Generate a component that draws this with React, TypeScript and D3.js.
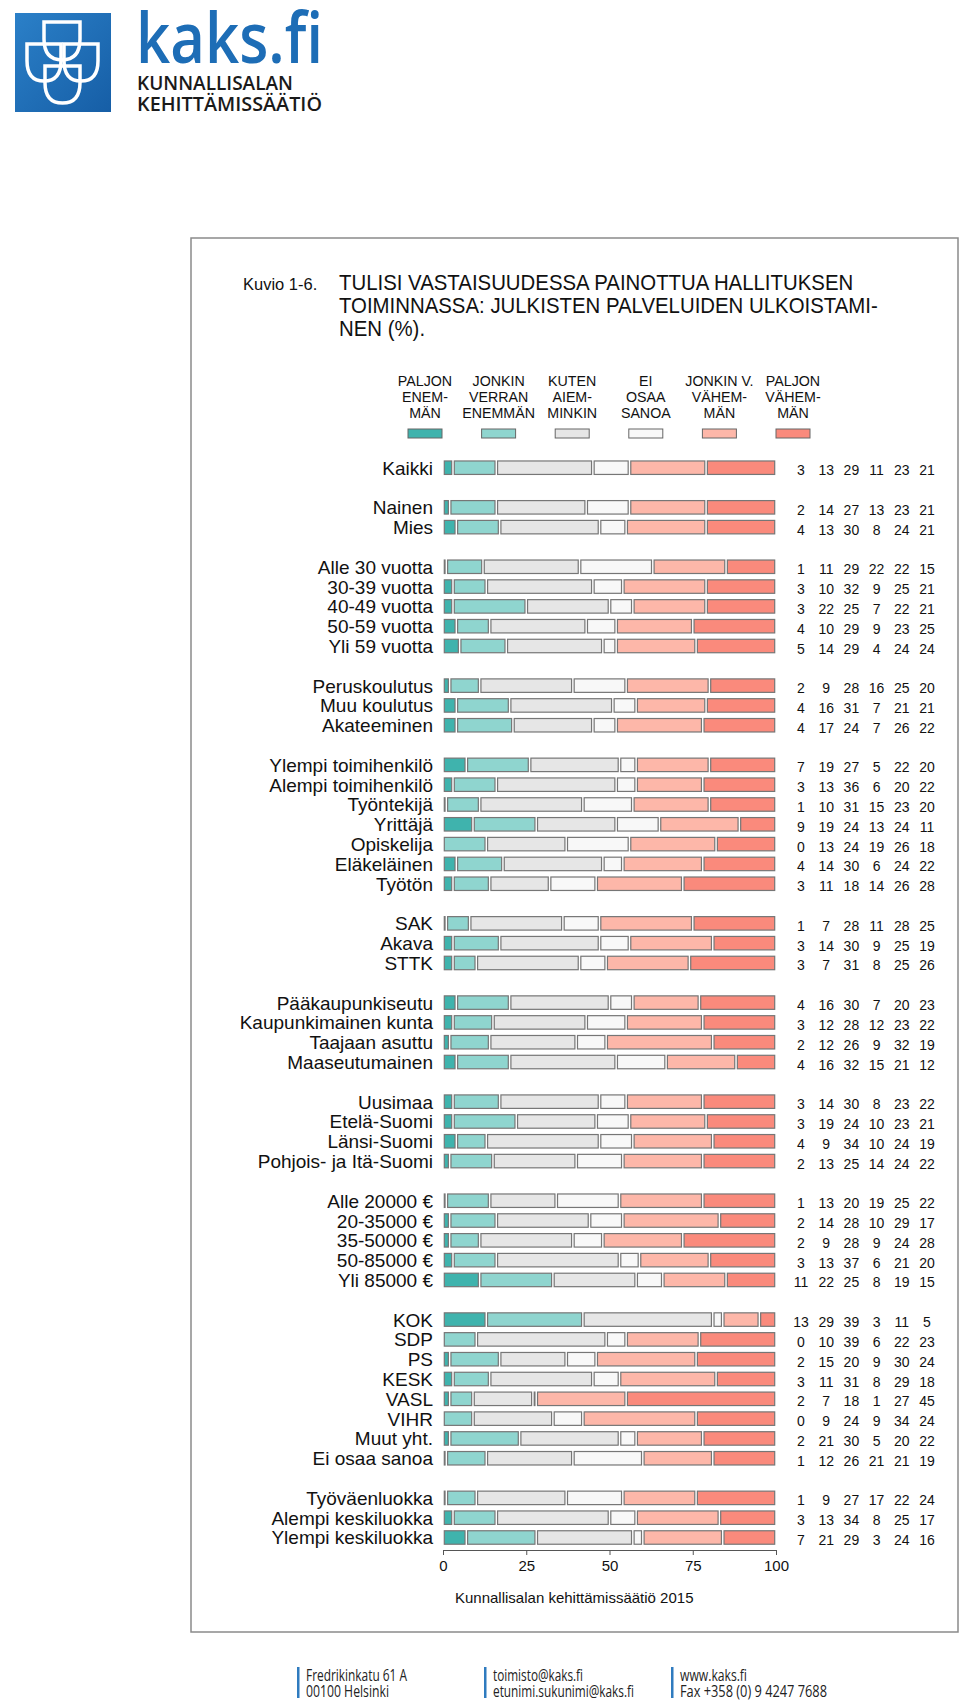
import { useEffect, useRef } from 'react';
import * as d3 from 'd3';

const FONT = '"Liberation Sans", Arial, Helvetica, sans-serif';
const LOGO_FONT = '"Open Sans", "Noto Sans", sans-serif';

// answer categories, left to right
const seriesKeys = ['pe', 'jve', 'ka', 'eos', 'jvv', 'pv'];
const legendLines = [
  ['PALJON', 'ENEM-', 'MÄN'],
  ['JONKIN', 'VERRAN', 'ENEMMÄN'],
  ['KUTEN', 'AIEM-', 'MINKIN'],
  ['EI', 'OSAA', 'SANOA'],
  ['JONKIN V.', 'VÄHEM-', 'MÄN'],
  ['PALJON', 'VÄHEM-', 'MÄN'],
];
const seriesColors = ['#3fb3ad', '#8fd5cf', '#e6e6e6', '#f8f8f8', '#fdb7a9', '#fa8a7c'];

// respondent groups (a blank row goes between groups)
const groups = [
  ['Kaikki'],
  ['Nainen', 'Mies'],
  ['Alle 30 vuotta', '30-39 vuotta', '40-49 vuotta', '50-59 vuotta', 'Yli 59 vuotta'],
  ['Peruskoulutus', 'Muu koulutus', 'Akateeminen'],
  ['Ylempi toimihenkilö', 'Alempi toimihenkilö', 'Työntekijä', 'Yrittäjä', 'Opiskelija', 'Eläkeläinen', 'Työtön'],
  ['SAK', 'Akava', 'STTK'],
  ['Pääkaupunkiseutu', 'Kaupunkimainen kunta', 'Taajaan asuttu', 'Maaseutumainen'],
  ['Uusimaa', 'Etelä-Suomi', 'Länsi-Suomi', 'Pohjois- ja Itä-Suomi'],
  ['Alle 20000 €', '20-35000 €', '35-50000 €', '50-85000 €', 'Yli 85000 €'],
  ['KOK', 'SDP', 'PS', 'KESK', 'VASL', 'VIHR', 'Muut yht.', 'Ei osaa sanoa'],
  ['Työväenluokka', 'Alempi keskiluokka', 'Ylempi keskiluokka'],
];

// percentages per answer, one value per category (same order as groups.flat())
const paljonEnemman = [3, 2, 4, 1, 3, 3, 4, 5, 2, 4, 4, 7, 3, 1, 9, 0, 4, 3, 1, 3, 3, 4, 3, 2, 4, 3, 3, 4, 2, 1, 2, 2, 3, 11, 13, 0, 2, 3, 2, 0, 2, 1, 1, 3, 7];
const jonkinVerranEnemman = [13, 14, 13, 11, 10, 22, 10, 14, 9, 16, 17, 19, 13, 10, 19, 13, 14, 11, 7, 14, 7, 16, 12, 12, 16, 14, 19, 9, 13, 13, 14, 9, 13, 22, 29, 10, 15, 11, 7, 9, 21, 12, 9, 13, 21];
const kutenAiemminkin = [29, 27, 30, 29, 32, 25, 29, 29, 28, 31, 24, 27, 36, 31, 24, 24, 30, 18, 28, 30, 31, 30, 28, 26, 32, 30, 24, 34, 25, 20, 28, 28, 37, 25, 39, 39, 20, 31, 18, 24, 30, 26, 27, 34, 29];
const eiOsaaSanoa = [11, 13, 8, 22, 9, 7, 9, 4, 16, 7, 7, 5, 6, 15, 13, 19, 6, 14, 11, 9, 8, 7, 12, 9, 15, 8, 10, 10, 14, 19, 10, 9, 6, 8, 3, 6, 9, 8, 1, 9, 5, 21, 17, 8, 3];
const jonkinVerranVahemman = [23, 23, 24, 22, 25, 22, 23, 24, 25, 21, 26, 22, 20, 23, 24, 26, 24, 26, 28, 25, 25, 20, 23, 32, 21, 23, 23, 24, 24, 25, 29, 24, 21, 19, 11, 22, 30, 29, 27, 34, 20, 21, 22, 25, 24];
const paljonVahemman = [21, 21, 21, 15, 21, 21, 25, 24, 20, 21, 22, 20, 22, 20, 11, 18, 22, 28, 25, 19, 26, 23, 22, 19, 12, 22, 21, 19, 22, 22, 17, 28, 20, 15, 5, 23, 24, 18, 45, 24, 22, 19, 24, 17, 16];

const seriesValues = [paljonEnemman, jonkinVerranEnemman, kutenAiemminkin, eiOsaaSanoa, jonkinVerranVahemman, paljonVahemman];
const tickValues = [0, 25, 50, 75, 100];

const titleLines = [
  'TULISI VASTAISUUDESSA PAINOTTUA HALLITUKSEN',
  'TOIMINNASSA: JULKISTEN PALVELUIDEN ULKOISTAMI-',
  'NEN (%).',
];

const footer = [
  { x: 297, lines: ['Fredrikinkatu 61 A', '00100 Helsinki'], widths: [101, 83] },
  { x: 484, lines: ['toimisto@kaks.fi', 'etunimi.sukunimi@kaks.fi'], widths: [90, 141] },
  { x: 671, lines: ['www.kaks.fi', 'Fax +358 (0) 9 4247 7688'], widths: [67, 147] },
];

function shield(x0: number, y0: number, w: number, h: number) {
  const p = d3.path();
  p.moveTo(x0, y0);
  p.lineTo(x0 + w, y0);
  p.lineTo(x0 + w, y0 + h * 0.45);
  p.quadraticCurveTo(x0 + w, y0 + h, x0 + w / 2, y0 + h);
  p.quadraticCurveTo(x0, y0 + h, x0, y0 + h * 0.45);
  p.closePath();
  return p.toString();
}

export default function App() {
  const svgRef = useRef<SVGSVGElement>(null);

  useEffect(() => {
    if (!svgRef.current) return;
    const svg = d3.select(svgRef.current);
    svg.selectAll('*').remove();

    // ---- logo
    const defs = svg.append('defs');
    const grad = defs.append('linearGradient').attr('id', 'logoGrad').attr('x1', 0).attr('y1', 0).attr('x2', 1).attr('y2', 1);
    grad.append('stop').attr('offset', '0%').attr('stop-color', '#2b80c8');
    grad.append('stop').attr('offset', '100%').attr('stop-color', '#165ea6');
    const logo = svg.append('g');
    logo.append('rect').attr('x', 15).attr('y', 13).attr('width', 96).attr('height', 99).attr('fill', 'url(#logoGrad)');
    [
      [44, 22, 36, 38],
      [27, 44, 34, 37],
      [64, 44, 34, 37],
      [45, 66, 35, 37],
    ].forEach(([x0, y0, w, h]) => {
      logo.append('path').attr('d', shield(x0, y0, w, h)).attr('fill', 'none').attr('stroke', '#ffffff').attr('stroke-width', 3.5);
    });
    logo.append('text').attr('x', 136).attr('y', 63).attr('font-family', LOGO_FONT).attr('font-weight', 600)
      .attr('font-size', 70).attr('fill', '#1d6db6').attr('textLength', 187).attr('lengthAdjust', 'spacingAndGlyphs').text('kaks.fi');
    logo.append('text').attr('x', 137).attr('y', 90).attr('font-family', LOGO_FONT).attr('font-weight', 600)
      .attr('font-size', 19).attr('fill', '#1a1a1a').attr('textLength', 156).attr('lengthAdjust', 'spacingAndGlyphs').text('KUNNALLISALAN');
    logo.append('text').attr('x', 137).attr('y', 111).attr('font-family', LOGO_FONT).attr('font-weight', 600)
      .attr('font-size', 19).attr('fill', '#1a1a1a').attr('textLength', 185).attr('lengthAdjust', 'spacingAndGlyphs').text('KEHITTÄMISSÄÄTIÖ');

    // ---- frame
    svg.append('rect').attr('x', 191).attr('y', 238).attr('width', 767).attr('height', 1394)
      .attr('fill', 'none').attr('stroke', '#8a8a8a').attr('stroke-width', 1.5);

    // ---- title
    svg.append('text').attr('x', 243).attr('y', 290).attr('font-family', FONT).attr('font-size', 16.5).attr('fill', '#111').text('Kuvio 1-6.');
    svg.append('g').selectAll('text').data(titleLines).join('text')
      .attr('transform', (_, i) => `translate(339,${290 + i * 23}) scale(0.887,1)`)
      .attr('font-family', FONT).attr('font-size', 23).attr('fill', '#111')
      .text((d) => d);

    // ---- legend
    const lx = d3.scalePoint<number>().domain(d3.range(6)).range([425, 793]);
    const legend = svg.append('g');
    legendLines.forEach((lines, si) => {
      const cx = lx(si) ?? 0;
      lines.forEach((t, li) => {
        legend.append('text').attr('transform', `translate(${cx},${386 + li * 16}) scale(0.95,1)`)
          .attr('text-anchor', 'middle').attr('font-family', FONT).attr('font-size', 15).attr('fill', '#111').text(t);
      });
      legend.append('rect').attr('x', cx - 17).attr('y', 429).attr('width', 34).attr('height', 9)
        .attr('fill', seriesColors[si]).attr('stroke', '#666').attr('stroke-width', 1);
    });

    // ---- bars
    const categories = groups.flat();
    const slots: string[] = [];
    groups.forEach((g, gi) => {
      if (gi > 0) slots.push(`__gap${gi}`);
      slots.push(...g);
    });

    const rows = categories.map((c, i) => {
      const r: Record<string, number | string> = { cat: c };
      seriesKeys.forEach((k, si) => { r[k] = seriesValues[si][i]; });
      return r;
    });

    const stacked = d3.stack<Record<string, number | string>>()
      .keys(seriesKeys)
      .value((d, k) => d[k] as number)
      .offset(d3.stackOffsetExpand)(rows);

    const y = d3.scaleBand().domain(slots).range([457.8, 1547.4]).paddingInner(0.32).paddingOuter(0.16);
    const xPct = d3.scaleLinear().domain([0, 1]).range([443, 776]);
    const xAxisScale = d3.scaleLinear().domain([0, 100]).range([443, 776]);
    const bh = y.bandwidth();
    const inset = 1.3;

    const bars = svg.append('g');
    stacked.forEach((layer, si) => {
      bars.append('g').selectAll('rect')
        .data(layer.filter((d) => d[1] - d[0] > 0))
        .join('rect')
        .attr('x', (d) => xPct(d[0]) + inset)
        .attr('y', (d) => y(d.data.cat as string) ?? 0)
        .attr('width', (d) => Math.max(0.3, xPct(d[1]) - xPct(d[0]) - 2 * inset))
        .attr('height', bh)
        .attr('fill', seriesColors[si])
        .attr('stroke', '#767676')
        .attr('stroke-width', 1.2);
    });

    // ---- category labels
    svg.append('g').selectAll('text').data(categories).join('text')
      .attr('x', 433)
      .attr('y', (d) => (y(d) ?? 0) + bh / 2 + 7)
      .attr('text-anchor', 'end')
      .attr('font-family', FONT).attr('font-size', 19).attr('fill', '#111')
      .text((d) => d);

    // ---- value columns
    const nx = d3.scalePoint<number>().domain(d3.range(6)).range([801, 927]);
    const nums = svg.append('g').attr('font-family', FONT).attr('font-size', 14).attr('fill', '#111').attr('text-anchor', 'middle');
    categories.forEach((c, i) => {
      seriesValues.forEach((vals, si) => {
        nums.append('text').attr('x', nx(si) ?? 0).attr('y', (y(c) ?? 0) + bh / 2 + 7.5).text(String(vals[i]));
      });
    });

    // ---- x axis
    const axis = svg.append('g').attr('transform', 'translate(0,1550)')
      .call(d3.axisBottom(xAxisScale).tickValues(tickValues).tickSize(5).tickPadding(5));
    axis.attr('font-family', FONT).attr('font-size', 15);
    axis.select('.domain').attr('stroke', '#555');
    axis.selectAll('.tick line').attr('stroke', '#555');
    axis.selectAll('.tick text').attr('fill', '#111');

    svg.append('text').attr('x', 455).attr('y', 1603).attr('font-family', FONT).attr('font-size', 15).attr('fill', '#111')
      .text('Kunnallisalan kehittämissäätiö 2015');

    // ---- footer
    const foot = svg.append('g');
    footer.forEach((f) => {
      foot.append('rect').attr('x', f.x).attr('y', 1667).attr('width', 2.5).attr('height', 31).attr('fill', '#2f7bbf');
      f.lines.forEach((t, li) => {
        foot.append('text').attr('x', f.x + 9).attr('y', 1681 + li * 16)
          .attr('font-family', LOGO_FONT).attr('font-size', 16).attr('fill', '#222')
          .attr('textLength', f.widths[li]).attr('lengthAdjust', 'spacingAndGlyphs').text(t);
      });
    });
  }, []);

  return (
    <svg
      ref={svgRef}
      width={960}
      height={1707}
      style={{ position: 'absolute', left: 0, top: 0, display: 'block', background: '#ffffff' }}
    />
  );
}
